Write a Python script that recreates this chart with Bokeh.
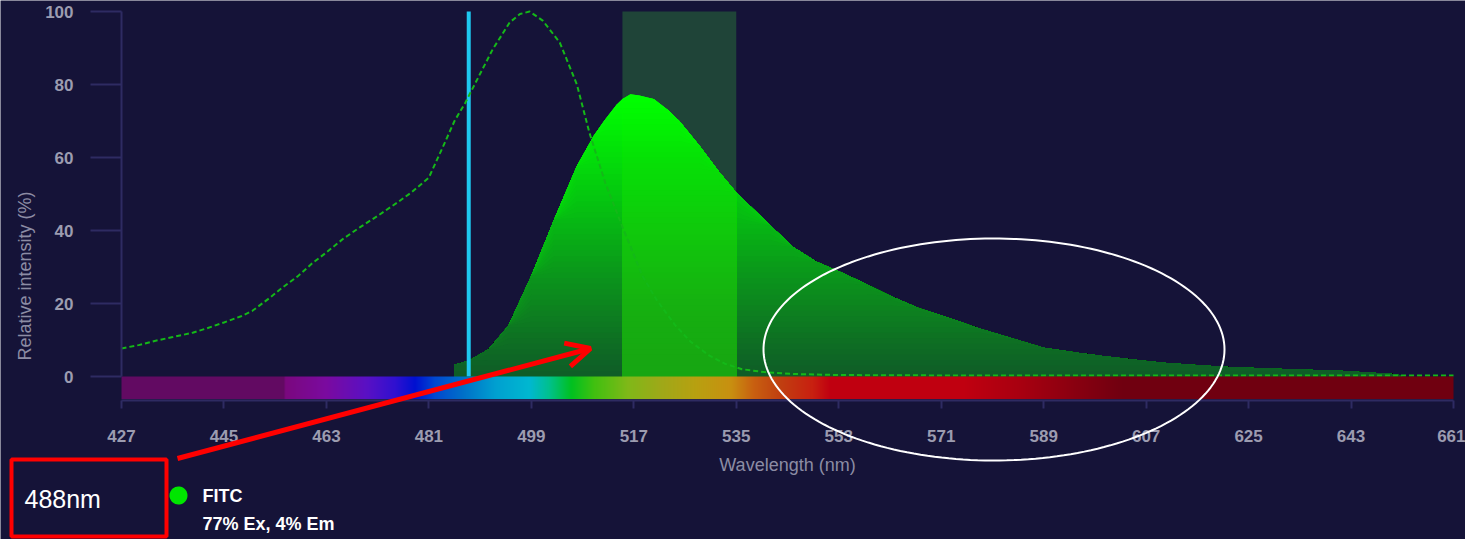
import numpy as np
from bokeh.plotting import figure
from bokeh.models import Range1d, FixedTicker, Label, Arrow, OpenHead, PolyAnnotation
from bokeh.embed import file_html
from bokeh.resources import INLINE

# ---------------- data ----------------
x_ticks = [427, 445, 463, 481, 499, 517, 535, 553, 571, 589, 607, 625, 643, 661]
y_ticks = [0, 20, 40, 60, 80, 100]

ex_wl = [427, 430, 433, 436, 439.5, 442, 445, 448, 450, 453, 455.3, 458, 460.5, 463, 466, 469,
         472, 475.5, 478, 481, 483.4, 485.5, 487.4, 489.2, 492.2, 495.2, 497, 498.7, 501, 504,
         507, 509.2, 512, 515, 518.5, 521, 524.3, 527, 530.3, 533, 536, 540, 545, 553, 570,
         600, 630, 661]
ex_val = [7.7, 8.6, 9.8, 10.8, 12, 13.2, 14.8, 16.5, 18, 21.5, 24.4, 27.5, 31, 34, 37.8, 41,
          44, 47.7, 50.5, 54.5, 62.7, 70, 75, 80.5, 89.6, 97, 99.3, 100, 97.5, 91.5,
          80, 66.8, 53, 41, 27.6, 21, 14, 9.5, 5.7, 3.5, 2, 1.2, 0.7, 0.4, 0.3,
          0.3, 0.3, 0.3]

em_wl = [485.5, 488, 491.5, 495, 499, 503, 507, 510, 512, 514, 515, 516.4, 518, 520.5, 523,
         525, 528.5, 532, 535, 541, 545, 549, 553.5, 558, 562, 567, 573, 578, 584, 589, 595,
         599, 605, 610, 617, 623, 632, 641, 646, 651, 652]
em_val = [3.2, 4.3, 7.5, 14, 27.6, 43, 57.7, 66, 70.5, 74.5, 76, 77.3, 77, 76, 73,
          70, 63.3, 56, 50.4, 41.4, 35.5, 31.5, 28.5, 25.2, 22.1, 18.8, 15.7, 13, 10.2, 7.9, 6.5,
          5.7, 4.6, 3.8, 3.0, 2.5, 2.0, 1.6, 1.1, 0.6, 0]

laser_nm = [488]
filter_lo = [515]
filter_hi = [535]

dye_name = "FITC"
dye_info = "77% Ex, 4% Em"
laser_label = "488nm"

# ---------------- styling ----------------
BG = "#151338"
AXIS = "#2e2b62"
TICK_TXT = "#9c9cb0"
FONT = "Liberation Sans"

W, H = 1465, 539
# pixel geometry of the plotting area (page pixels): 427nm at x=129, 661nm at x=1461,
# 0% at y=384, 100% at y=19; canvas starts at page (8, 8)
PX_PER_NM = (1461 - 129) / (661 - 427)
PX_PER_PCT = (384 - 19) / 100.0
x_lo = 427 + (8 - 129) / PX_PER_NM
x_hi = 427 + (8 + W - 129) / PX_PER_NM
y_hi = (384 - 8) / PX_PER_PCT
y_lo = (384 - (8 + H)) / PX_PER_PCT
AXIS_Y = -(407.7 - 384) / PX_PER_PCT


def hex2rgb(h):
    h = h.lstrip("#")
    return np.array([int(h[i:i + 2], 16) for i in (0, 2, 4)], dtype=float)


def interp_color(stops, v):
    pos = [s[0] for s in stops]
    cols = np.array([hex2rgb(s[1]) for s in stops])
    r = np.interp(v, pos, cols[:, 0])
    g = np.interp(v, pos, cols[:, 1])
    b = np.interp(v, pos, cols[:, 2])
    return r, g, b


def to_hex(r, g, b):
    return "#%02x%02x%02x" % (int(round(r)), int(round(g)), int(round(b)))


p = figure(width=W, height=H, x_range=Range1d(x_lo, x_hi), y_range=Range1d(y_lo, y_hi),
           output_backend="svg", toolbar_location=None,
           background_fill_color=BG, border_fill_color=BG,
           min_border_left=0, min_border_right=0, min_border_top=0, min_border_bottom=0)
p.outline_line_color = None
p.xgrid.visible = False
p.ygrid.visible = False

# filter band (behind)
p.quad(left=filter_lo, right=filter_hi, bottom=0, top=100, fill_color="#1f4438", line_color=None)

# emission with vertical gradient
em_wl_a = np.array(em_wl)
em_val_a = np.array(em_val)
out_stops = [(0, "#0f5a28"), (8, "#0e6a24"), (18, "#0d7f20"), (30, "#0a991a"),
             (45, "#06bc12"), (60, "#03dc0a"), (77, "#00ff00")]
in_stops = [(0, "#17a512"), (20, "#16b010"), (40, "#10c80c"), (60, "#06e006"), (77, "#00ff00")]
levels = np.arange(78, 0, -1.5)
for L in levels:
    p.varea(x=em_wl_a, y1=0, y2=np.minimum(em_val_a, L),
            fill_color=to_hex(*interp_color(out_stops, L)))
mask = (em_wl_a >= filter_lo[0]) & (em_wl_a <= filter_hi[0])
for L in levels:
    p.varea(x=em_wl_a[mask], y1=0, y2=np.minimum(em_val_a[mask], L),
            fill_color=to_hex(*interp_color(in_stops, L)))

# laser line
p.segment(x0=laser_nm, y0=0, x1=laser_nm, y1=100, line_width=4, line_color="#1ec8f0")

# excitation (dashed)
p.line(ex_wl, ex_val, line_color="#14b818", line_width=2, line_dash="5 3")

# visible spectrum bar
spec_stops = [(427, "#620a62"), (455.5, "#620a62"), (455.7, "#7a087e"), (463, "#7a0aa0"),
              (470, "#5a10c4"), (475, "#3010d0"), (478.5, "#0010d0"), (482, "#0048d0"),
              (487, "#0070c8"), (492.7, "#00a0d0"), (498.7, "#00b8d0"), (502, "#00c090"),
              (506, "#00c020"), (510, "#40c010"), (516, "#80b818"), (522, "#a0a818"),
              (528, "#b8a010"), (534, "#c89010"), (538, "#c86010"), (542.6, "#c04010"),
              (548.4, "#c82010"), (551.5, "#c00010"), (575, "#c00010"), (585, "#a80010"),
              (595, "#880010"), (603, "#700010"), (661, "#700010")]
N = 1332
lam = np.linspace(427, 661, N)
r, g, b = interp_color(spec_stops, lam)
img = np.empty((1, N), dtype=np.uint32)
view = img.view(dtype=np.uint8).reshape((1, N, 4))
view[0, :, 0] = np.round(r).astype(np.uint8)
view[0, :, 1] = np.round(g).astype(np.uint8)
view[0, :, 2] = np.round(b).astype(np.uint8)
view[0, :, 3] = 255
p.image_rgba(image=[img], x=427, y=-6.2, dw=234, dh=6.2)

# axes (placed at fixed data locations inside a full-canvas frame)
xa = p.xaxis[0]
xa.fixed_location = AXIS_Y
xa.ticker = FixedTicker(ticks=x_ticks)
xa.bounds = (427, 661)
xa.axis_line_color = AXIS
xa.axis_line_width = 2
xa.major_tick_line_color = AXIS
xa.major_tick_line_width = 2
xa.major_tick_in = 0
xa.major_tick_out = 8
xa.minor_tick_line_color = None
xa.major_label_text_color = TICK_TXT
xa.major_label_text_font = FONT
xa.major_label_text_font_size = "17px"
xa.major_label_text_font_style = "bold"
xa.major_label_standoff = 22
xa.axis_label = "Wavelength (nm)"
xa.axis_label_text_color = "#8c8ca4"
xa.axis_label_text_font = FONT
xa.axis_label_text_font_size = "18px"
xa.axis_label_text_font_style = "normal"
xa.axis_label_standoff = 9

ya = p.yaxis[0]
ya.fixed_location = 427
ya.ticker = FixedTicker(ticks=y_ticks)
ya.bounds = (0, 100)
ya.axis_line_color = AXIS
ya.axis_line_width = 2
ya.major_tick_line_color = AXIS
ya.major_tick_line_width = 2
ya.major_tick_in = 0
ya.major_tick_out = 31
ya.minor_tick_line_color = None
ya.major_label_text_color = TICK_TXT
ya.major_label_text_font = FONT
ya.major_label_text_font_size = "17px"
ya.major_label_text_font_style = "bold"
ya.major_label_standoff = 17


# canvas helpers (page pixel -> canvas units, y measured from top)
def cx(x):
    return x - 8


def cy(y):
    return y - 8


p.add_layout(Label(x=cx(32), y=cy(283.5), x_units="canvas", y_units="canvas",
                   text="Relative intensity (%)", angle=np.pi / 2, text_align="center",
                   text_baseline="middle", text_color="#8c8ca4", text_font=FONT,
                   text_font_size="18px"))

# legend area
p.add_layout(Label(x=cx(32), y=cy(506), x_units="canvas", y_units="canvas", text=laser_label,
                   text_align="left", text_baseline="middle", text_color="#ffffff",
                   text_font=FONT, text_font_size="25px"))
p.add_layout(Label(x=cx(210), y=cy(503), x_units="canvas", y_units="canvas", text=dye_name,
                   text_align="left", text_baseline="middle", text_color="#ffffff",
                   text_font=FONT, text_font_size="18px", text_font_style="bold"))
p.add_layout(Label(x=cx(210), y=cy(531), x_units="canvas", y_units="canvas", text=dye_info,
                   text_align="left", text_baseline="middle", text_color="#ffffff",
                   text_font=FONT, text_font_size="18px", text_font_style="bold"))
t = np.linspace(0, 2 * np.pi, 40)
p.add_layout(PolyAnnotation(xs=list(cx(186 + 9 * np.cos(t))), ys=list(cy(503 + 9 * np.sin(t))),
                            xs_units="canvas", ys_units="canvas", fill_color="#00e600",
                            fill_alpha=1, line_color=None))

# markup: red box, red arrow, white ellipse
bx = [19, 174, 174, 19]
by = [467, 467, 544, 544]
p.add_layout(PolyAnnotation(xs=[cx(v) for v in bx], ys=[cy(v) for v in by],
                            xs_units="canvas", ys_units="canvas", fill_alpha=0,
                            line_color="#ff0000", line_alpha=1, line_width=4))
p.add_layout(Arrow(x_start=cx(185), y_start=cy(466), x_end=cx(598), y_end=cy(356),
                   start_units="canvas", end_units="canvas", line_color="#ff0000", line_width=5,
                   end=OpenHead(size=24, line_color="#ff0000", line_width=5)))
te = np.linspace(0, 2 * np.pi, 200)
p.add_layout(PolyAnnotation(xs=list(cx(1001.5 + 230.5 * np.cos(te))),
                            ys=list(cy(357 + 111 * np.sin(te))),
                            xs_units="canvas", ys_units="canvas", fill_alpha=0,
                            line_color="#ffffff", line_alpha=1, line_width=2))

open("out.html", "w").write(file_html(p, INLINE))
